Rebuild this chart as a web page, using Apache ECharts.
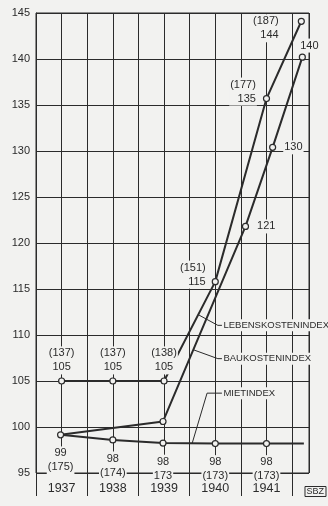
<!DOCTYPE html>
<html>
<head>
<meta charset="utf-8">
<script src="https://cdn.jsdelivr.net/npm/echarts@6/dist/echarts.min.js"></script>
<style>
  html, body { margin: 0; padding: 0; background: #f2f2f0; }
  #main { width: 328px; height: 506px; }
</style>
</head>
<body>
<div id="main"></div>
<script>
// jahre (achse)
const years = ['1937', '1938', '1939', '1940', '1941'];
const yearCenters = [1937.5, 1938.5, 1939.5, 1940.5, 1941.5];
const yearBounds = [1937, 1938, 1939, 1940, 1941, 1942];
const yTicks = [95, 100, 105, 110, 115, 120, 125, 130, 135, 140, 145];

// Lebenskostenindex
const lebenX = [1937.5, 1938.5, 1939.5, 1940.5, 1941.5, 1942.18];
const lebenY = [105, 105, 105, 115.8, 135.7, 144.1];
const lebenLbl = ['(137)\n105', '(137)\n105', '(138)\n105', '(151)\n115', '(177)\n135', '(187)\n144'];

// Baukostenindex
const bauX = [1937.48, 1939.48, 1941.09, 1941.62, 1942.2];
const bauY = [99.15, 100.6, 121.8, 130.4, 140.2];
const bauLbl = ['', '', '121', '130', '140'];

// Mietindex
const mietX = [1937.48, 1938.5, 1939.48, 1940.5, 1941.5, 1942.23];
const mietY = [99.15, 98.6, 98.25, 98.2, 98.2, 98.2];
const mietLbl = ['99\n(175)', '98\n(174)', '98\n173', '98\n(173)', '98\n(173)', ''];

// beschriftung mit hinweislinie: [text-anfang, knick, ziel]
const leaders = [
  { name: 'LEBENSKOSTENINDEX', pts: [[1940.63, 111.05], [1940.55, 111.05], [1940.17, 112.2]] },
  { name: 'BAUKOSTENINDEX', pts: [[1940.63, 107.43], [1940.55, 107.43], [1940.07, 108.4]] },
  { name: 'MIETINDEX', pts: [[1940.63, 103.68], [1940.34, 103.68], [1940.05, 98.25]] }
];

const BG = '#f2f2f0';
const INK = '#2b2b2b';
const FONT = 'Liberation Sans';

function pts(xs, ys) {
  return xs.map((x, i) => [x, ys[i]]);
}

const baseLabel = {
  color: INK,
  fontFamily: FONT,
  fontSize: 11,
  lineHeight: 14,
  backgroundColor: BG,
  padding: [0, 1]
};

// label-positionen je punkt
const lebenPos = [
  { position: 'top', distance: 3 },
  { position: 'top', distance: 3 },
  { position: 'top', distance: 3 },
  { position: 'left', distance: 5, offset: [0, -7] },
  { position: 'left', distance: 6, offset: [0, -7] },
  { position: 'left', distance: 6, offset: [-12, 7] }
];
const bauPos = [
  null, null,
  { position: 'right', distance: 7 },
  { position: 'right', distance: 7 },
  { position: 'top', distance: 1, offset: [7, 0] }
];

const lebenData = pts(lebenX, lebenY).map((p, i) => ({
  value: p,
  label: Object.assign({ show: true, formatter: lebenLbl[i] }, baseLabel, lebenPos[i])
}));

const bauData = pts(bauX, bauY).map((p, i) => ({
  value: p,
  symbol: i === 0 ? 'none' : 'circle',
  label: bauPos[i] ? Object.assign({ show: true, formatter: bauLbl[i] }, baseLabel, bauPos[i]) : { show: false }
}));

const mietData = pts(mietX, mietY).map((p, i) => ({
  value: p,
  symbol: i === mietX.length - 1 ? 'none' : 'circle',
  label: mietLbl[i] ? Object.assign({ show: true, formatter: mietLbl[i], position: 'bottom', distance: 8 }, baseLabel) : { show: false }
}));

const dataLine = {
  type: 'line',
  symbol: 'circle',
  symbolSize: 6,
  showAllSymbol: true,
  animation: false,
  lineStyle: { color: INK, width: 2 },
  itemStyle: { color: BG, borderColor: INK, borderWidth: 1.2 },
  z: 5
};

// hinweislinien: unsichtbares symbol am textanfang, damit das label erscheint
const leaderSeries = leaders.map((l) => ({
  type: 'line',
  name: l.name,
  symbol: 'circle',
  symbolSize: 1,
  showAllSymbol: true,
  animation: false,
  silent: true,
  lineStyle: { color: INK, width: 1 },
  itemStyle: { color: 'rgba(0,0,0,0)', borderWidth: 0 },
  z: 6,
  data: l.pts.map((p, i) => ({
    value: p,
    label: i === 0 ? {
      show: true,
      position: 'right',
      distance: 1,
      formatter: l.name,
      color: INK,
      fontFamily: FONT,
      fontSize: 9.5,
      backgroundColor: BG,
      padding: [1, 0]
    } : { show: false }
  }))
}));

const chart = echarts.init(document.getElementById('main'), null, { renderer: 'canvas' });

chart.setOption({
  backgroundColor: BG,
  animation: false,
  title: {
    text: 'SBZ',
    right: 2,
    bottom: 9,
    padding: [1, 2],
    borderColor: INK,
    borderWidth: 1,
    textStyle: { fontFamily: FONT, fontSize: 9, fontWeight: 'normal', color: INK }
  },
  grid: {
    left: 36,
    right: 19,
    top: 13,
    bottom: 33,
    show: true,
    borderColor: INK,
    borderWidth: 1,
    backgroundColor: 'transparent'
  },
  xAxis: [
    {
      type: 'value',
      min: 1937,
      max: 1942.33,
      interval: 0.5,
      axisLine: { show: false },
      axisTick: { show: false },
      axisLabel: { show: false },
      splitLine: { show: true, lineStyle: { color: INK, width: 1 } }
    },
    {
      type: 'value',
      position: 'bottom',
      min: 1937,
      max: 1942.33,
      interval: 0.5,
      axisLine: { show: false },
      splitLine: { show: false },
      axisTick: {
        show: true,
        inside: false,
        length: 23,
        customValues: yearBounds,
        lineStyle: { color: INK, width: 1 }
      },
      axisLabel: {
        show: true,
        customValues: yearCenters,
        margin: 9,
        color: INK,
        fontFamily: FONT,
        fontSize: 12.5,
        formatter: (v) => years[yearCenters.indexOf(v)] || ''
      }
    }
  ],
  yAxis: {
    type: 'value',
    min: yTicks[0],
    max: yTicks[yTicks.length - 1],
    interval: 5,
    axisLine: { show: true, lineStyle: { color: INK, width: 1 } },
    axisTick: { show: false },
    axisLabel: { margin: 6, color: INK, fontFamily: FONT, fontSize: 11 },
    splitLine: { show: true, lineStyle: { color: INK, width: 1 } }
  },
  series: [
    Object.assign({ name: 'Mietindex', data: mietData }, dataLine),
    Object.assign({ name: 'Baukostenindex', data: bauData }, dataLine),
    Object.assign({ name: 'Lebenskostenindex', data: lebenData }, dataLine)
  ].concat(leaderSeries)
});
</script>
</body>
</html>
